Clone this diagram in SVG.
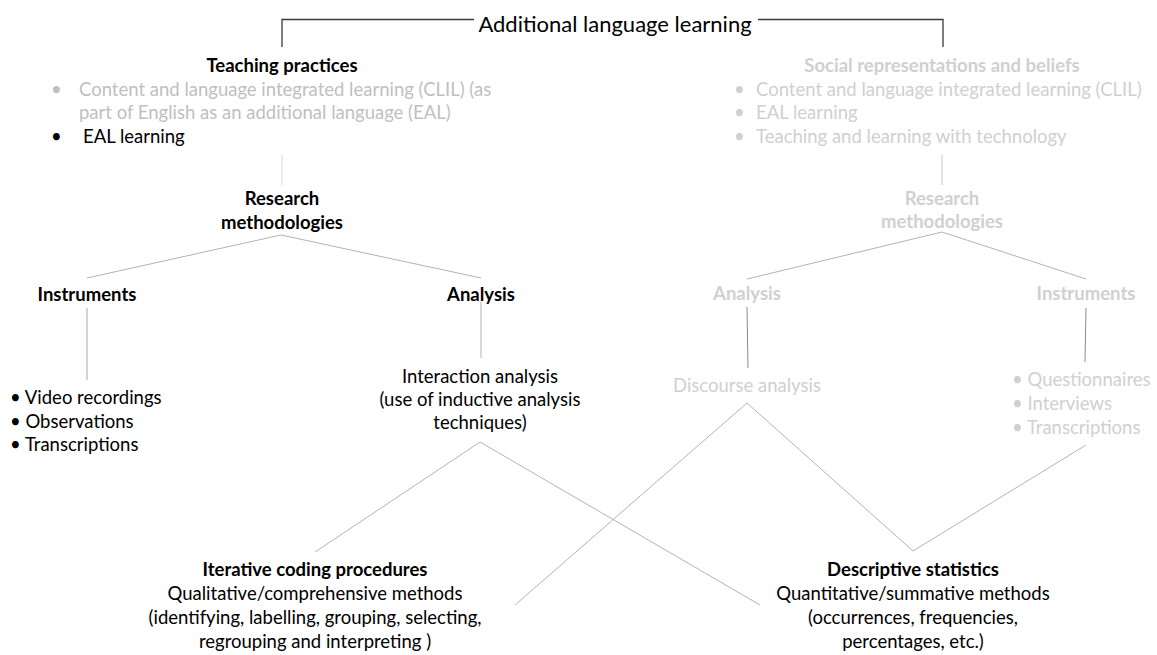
<svg xmlns="http://www.w3.org/2000/svg" width="1157" height="655" viewBox="0 0 1157 655">
<style>
text{font-family:Lato,"Liberation Sans",sans-serif;font-size:18.5px;fill:#000}
.t{font-size:22px}
.b{font-weight:bold}
.c{text-anchor:middle}
.g1{fill:#bfbfbf}
.g2{fill:#d0d0d0}
.ln{stroke:#b3b3b3;stroke-width:1;fill:none}
.br{stroke:#3a3a3a;stroke-width:1.3;fill:none}
</style>
<rect width="1157" height="655" fill="#fff"/>
<g id="connectors">
<path class="br" d="M474,19.5H282V47"/>
<path class="br" d="M758,19.5H943V47"/>
<line class="ln" x1="282" y1="155" x2="282" y2="185" style="stroke:#dadada"/>
<line class="ln" x1="942" y1="155" x2="942" y2="185" style="stroke:#c8c8c8"/>
<polyline class="ln" points="87,278 281,235 481,278"/>
<polyline class="ln" points="747,279 942,232 1086,279"/>
<line class="ln" x1="87" y1="308" x2="87" y2="380" style="stroke:#a8a8a8"/>
<line class="ln" x1="481" y1="302" x2="481" y2="358"/>
<line class="ln" x1="747" y1="307" x2="748" y2="368" style="stroke:#8c8c8c"/>
<line class="ln" x1="1086" y1="308" x2="1085" y2="362" style="stroke:#8c8c8c"/>
<polyline class="ln" points="315,552 480,442 760,605"/>
<polyline class="ln" points="515,605 747,403 913,551 1086,445"/>
</g>
<g id="title"><text class="t c" x="615" y="32">Additional language learning</text></g>
<g id="teaching-practices">
<text class="b c" x="282" y="72">Teaching practices</text>
<text class="g1" x="51" y="96">•</text>
<text class="g1" x="79" y="96">Content and language integrated learning (CLIL) (as</text>
<text class="g1" x="79" y="119">part of English as an additional language (EAL)</text>
<text x="51" y="143">•</text>
<text x="83" y="143">EAL learning</text>
</g>
<g id="research-left">
<text class="b c" x="282" y="205">Research</text>
<text class="b c" x="282" y="229">methodologies</text>
</g>
<g id="instruments-left">
<text class="b c" x="87" y="301">Instruments</text>
<text x="10" y="404">• Video recordings</text>
<text x="10" y="428">• Observations</text>
<text x="10" y="451">• Transcriptions</text>
</g>
<g id="analysis-left">
<text class="b c" x="481" y="301">Analysis</text>
<text class="c" x="480" y="383">Interaction analysis</text>
<text class="c" x="480" y="406">(use of inductive analysis</text>
<text class="c" x="480" y="429">techniques)</text>
</g>
<g id="social-representations">
<text class="b c g2" x="942" y="72">Social representations and beliefs</text>
<text class="g2" x="734" y="96">•</text>
<text class="g2" x="756" y="96">Content and language integrated learning (CLIL)</text>
<text class="g2" x="734" y="119">•</text>
<text class="g2" x="756" y="119">EAL learning</text>
<text class="g2" x="734" y="143">•</text>
<text class="g2" x="756" y="143">Teaching and learning with technology</text>
</g>
<g id="research-right">
<text class="b c g2" x="942" y="205">Research</text>
<text class="b c g2" x="942" y="228">methodologies</text>
</g>
<g id="analysis-right">
<text class="b c g2" x="747" y="300">Analysis</text>
<text class="c g2" x="747" y="392">Discourse analysis</text>
</g>
<g id="instruments-right">
<text class="b c g2" x="1086" y="300">Instruments</text>
<text class="g2" x="1012" y="386">• Questionnaires</text>
<text class="g2" x="1012" y="410">• Interviews</text>
<text class="g2" x="1012" y="434">• Transcriptions</text>
</g>
<g id="iterative-coding">
<text class="b c" x="315" y="576">Iterative coding procedures</text>
<text class="c" x="315" y="600">Qualitative/comprehensive methods</text>
<text class="c" x="315" y="624">(identifying, labelling, grouping, selecting,</text>
<text class="c" x="315" y="648">regrouping and interpreting )</text>
</g>
<g id="descriptive-statistics">
<text class="b c" x="913" y="576">Descriptive statistics</text>
<text class="c" x="913" y="600">Quantitative/summative methods</text>
<text class="c" x="913" y="624">(occurrences, frequencies,</text>
<text class="c" x="913" y="648">percentages, etc.)</text>
</g>
</svg>
